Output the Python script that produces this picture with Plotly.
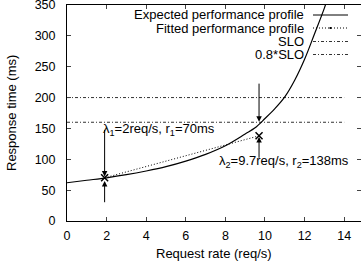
import plotly.graph_objects as go

# Expected performance profile
exp_rate = [0, 1, 2, 3, 4, 5, 6, 7, 8, 9, 9.5, 10, 10.5, 11, 11.5, 12, 12.5, 13, 13.1]
exp_resp = [62, 66, 70, 75, 81, 88, 97, 108, 122, 141, 151, 166, 182, 201, 228, 262, 303, 345, 355]

# Fitted performance profile
fit_rate = [1.9, 9.7]
fit_resp = [70, 138]

slo_x = [0, 14]
slo = 200
slo08 = 160

xticks = [0, 2, 4, 6, 8, 10, 12, 14]
yticks = [0, 50, 100, 150, 200, 250, 300, 350]

FONT = "Liberation Sans, Arial, sans-serif"
W, H = 361, 267
L, R, T, B = 67, 0, 5, 46
pw, ph = W - L - R, H - T - B

def px(p):
    return (p - L) / pw

def py(p):
    return 1 - (p - T) / ph

fig = go.Figure()
fig.add_trace(go.Scatter(x=slo_x, y=[slo, slo], mode="lines",
                         line=dict(color="#333", width=1, dash="3px,2px,1px,2px")))
fig.add_trace(go.Scatter(x=slo_x, y=[slo08, slo08], mode="lines",
                         line=dict(color="#333", width=1, dash="3px,2px,1px,2px")))
fig.add_trace(go.Scatter(x=exp_rate, y=exp_resp, mode="lines",
                         line=dict(color="black", width=1.2), line_shape="spline"))
fig.add_trace(go.Scatter(x=fit_rate, y=fit_resp, mode="lines+markers",
                         line=dict(color="black", width=1, dash="1px,2px"),
                         marker=dict(symbol="x-thin-open", size=7,
                                     line=dict(color="black", width=1.5))))

ann = []
# arrows
arrows = [(1.9, 72, 1.9, 150), (1.9, 65, 1.9, 28), (9.7, 161, 9.7, 225), (9.7, 136, 9.7, 100)]
for x, y, ax, ay in arrows:
    ann.append(dict(x=x, y=y, ax=ax, ay=ay, xref="x", yref="y", axref="x", ayref="y",
                    text="", showarrow=True, arrowhead=2, arrowsize=1.1, arrowwidth=1,
                    arrowcolor="black"))
ann.append(dict(x=1.7, y=149, xref="x", yref="y", xanchor="left", yanchor="middle",
                text="λ<sub>1</sub>=2req/s, r<sub>1</sub>=70ms", showarrow=False,
                font=dict(size=13, family=FONT, color="black")))
ann.append(dict(x=7.6, y=96, xref="x", yref="y", xanchor="left", yanchor="middle",
                text="λ<sub>2</sub>=9.7req/s, r<sub>2</sub>=138ms", showarrow=False,
                font=dict(size=13, family=FONT, color="black")))

# legend (manual)
leg_labels = ["Expected performance profile", "Fitted performance profile", "SLO", "0.8*SLO"]
leg_y = [15, 28, 41.5, 54.5]
shapes = []
for lab, yy in zip(leg_labels, leg_y):
    ann.append(dict(x=px(306), y=py(yy), xref="paper", yref="paper", xanchor="right",
                    yanchor="middle", text=lab, showarrow=False,
                    font=dict(size=13, family=FONT, color="black")))
dashes = ["solid", "1px,2px", "3px,2px,1px,2px", "3px,2px,1px,2px"]
cols = ["black", "black", "#333", "#333"]
for d, c, yy in zip(dashes, cols, leg_y):
    shapes.append(dict(type="line", xref="paper", yref="paper", x0=px(313), x1=px(348),
                       y0=py(yy), y1=py(yy), line=dict(color=c, width=1, dash=d)))
shapes.append(dict(type="rect", xref="paper", yref="paper", x0=px(329.5), x1=px(331.5),
                   y0=py(27), y1=py(29), fillcolor="black", line=dict(width=0)))

# axis titles
ann.append(dict(x=px(11), y=py(113), xref="paper", yref="paper", text="Response time (ms)",
                textangle=-90, showarrow=False, xanchor="center", yanchor="middle",
                font=dict(size=13, family=FONT, color="black")))
ann.append(dict(x=px(214), y=py(254), xref="paper", yref="paper", text="Request rate (req/s)",
                showarrow=False, xanchor="center", yanchor="middle",
                font=dict(size=13, family=FONT, color="black")))

fig.update_layout(
    width=W, height=H, margin=dict(l=L, r=R, t=T, b=B, autoexpand=False),
    paper_bgcolor="white", plot_bgcolor="white", showlegend=False,
    annotations=ann, shapes=shapes,
    font=dict(family=FONT, size=12, color="black"),
    xaxis=dict(range=[0, 14.85], tickvals=xticks, ticks="inside", ticklen=4,
               showline=True, linecolor="black", linewidth=1, mirror="ticks",
               showgrid=False, zeroline=False, ticklabelstandoff=3, automargin=False,
               ticklabeloverflow="allow", tickfont=dict(size=12.5, family=FONT)),
    yaxis=dict(range=[0, 350], tickvals=yticks, ticks="inside", ticklen=4,
               showline=True, linecolor="black", linewidth=1, mirror="ticks",
               showgrid=False, zeroline=False, ticklabelstandoff=8, automargin=False,
               ticklabeloverflow="allow", tickfont=dict(size=12.5, family=FONT)),
)
fig.write_html("out.html", config={"displayModeBar": False, "staticPlot": True},
               post_script="document.body.style.margin='0';document.body.style.overflow='hidden';")
